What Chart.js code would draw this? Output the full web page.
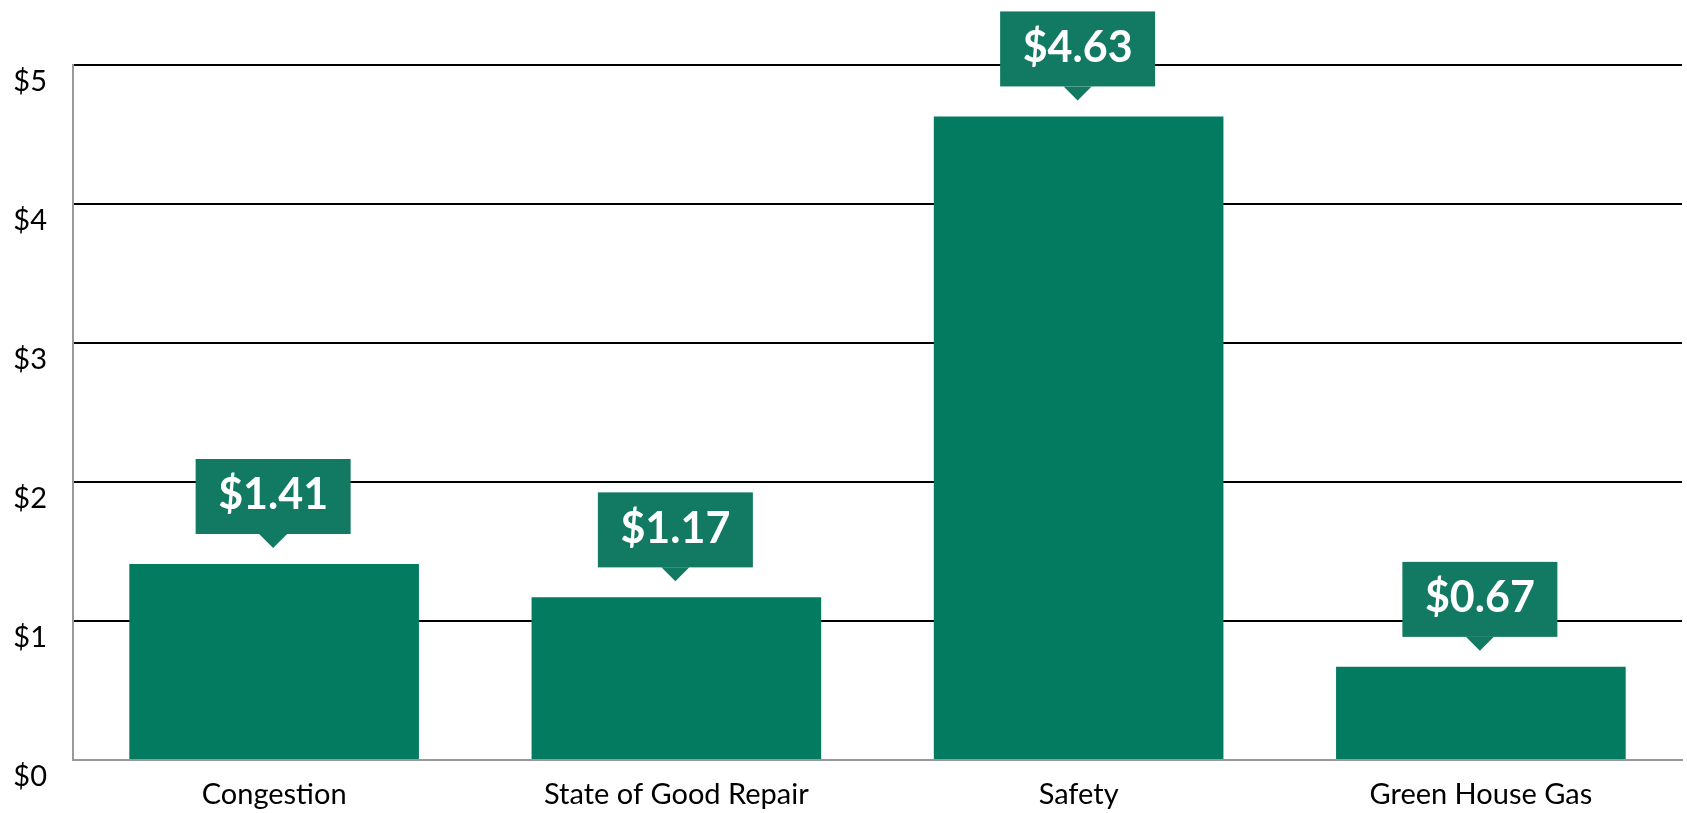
<!DOCTYPE html>
<html lang="en">
<head>
    <meta charset="UTF-8">
    <title>Cost by Category</title>
    <script src="https://cdn.jsdelivr.net/npm/chart.js"></script>
    <style>
        html, body { margin: 0; padding: 0; background: #fff; }
        #wrap { width: 1687px; height: 813px; }
    </style>
</head>
<body>
    <div id="wrap"><canvas id="costChart"></canvas></div>

    <script>
        const categories = ['Congestion', 'State of Good Repair', 'Safety', 'Green House Gas'];
        const values = [1.41, 1.17, 4.63, 0.67];
        const yTicks = [0, 1, 2, 3, 4, 5];

        const barColor = '#037B60';
        const boxColor = '#127A62';

        // callout boxes above each bar
        const calloutPlugin = {
            id: 'callouts',
            afterDatasetsDraw(chart) {
                const ctx = chart.ctx;
                const meta = chart.getDatasetMeta(0);
                const w = 155, h = 75, gap = 30, tipH = 14, tipW = 14;
                ctx.save();
                meta.data.forEach((bar, i) => {
                    const cx = bar.x - 1;
                    const bottom = bar.y - gap;
                    const top = bottom - h;
                    ctx.fillStyle = boxColor;
                    ctx.fillRect(cx - w / 2, top, w, h);
                    ctx.beginPath();
                    ctx.moveTo(cx - tipW, bottom);
                    ctx.lineTo(cx + tipW, bottom);
                    ctx.lineTo(cx, bottom + tipH);
                    ctx.closePath();
                    ctx.fill();
                    ctx.fillStyle = '#fff';
                    ctx.font = 'bold 43px Lato';
                    ctx.textAlign = 'center';
                    ctx.textBaseline = 'middle';
                    ctx.fillText('$' + values[i].toFixed(2), cx, top + h / 2 - 1);
                });
                ctx.restore();
            }
        };

        const ctx = document.getElementById('costChart').getContext('2d');
        new Chart(ctx, {
            type: 'bar',
            data: {
                labels: categories,
                datasets: [{
                    data: values,
                    backgroundColor: barColor,
                    categoryPercentage: 0.72,
                    barPercentage: 1.0
                }]
            },
            options: {
                responsive: true,
                maintainAspectRatio: false,
                animation: false,
                layout: { padding: { left: 0, right: 5, top: 65, bottom: 0 } },
                plugins: {
                    legend: { display: false },
                    tooltip: { enabled: false }
                },
                scales: {
                    x: {
                        grid: { display: false, drawTicks: false },
                        border: { color: '#999', width: 2 },
                        ticks: {
                            color: '#000',
                            font: { family: 'Lato', size: 29 },
                            padding: 17
                        },
                        afterFit: s => { s.height = 53; }
                    },
                    y: {
                        min: 0,
                        max: 5,
                        afterBuildTicks: s => { s.ticks = yTicks.map(v => ({ value: v })); },
                        grid: {
                            drawTicks: false,
                            color: c => c.tick.value === 0 ? '#999' : '#000',
                            lineWidth: 2
                        },
                        border: { color: '#999', width: 2 },
                        ticks: {
                            color: '#000',
                            font: { family: 'Lato', size: 29 },
                            padding: 26,
                            labelOffset: 17,
                            callback: v => '$' + v
                        },
                        afterFit: s => { s.width = 73; }
                    }
                }
            },
            plugins: [calloutPlugin]
        });
    </script>
</body>
</html>
